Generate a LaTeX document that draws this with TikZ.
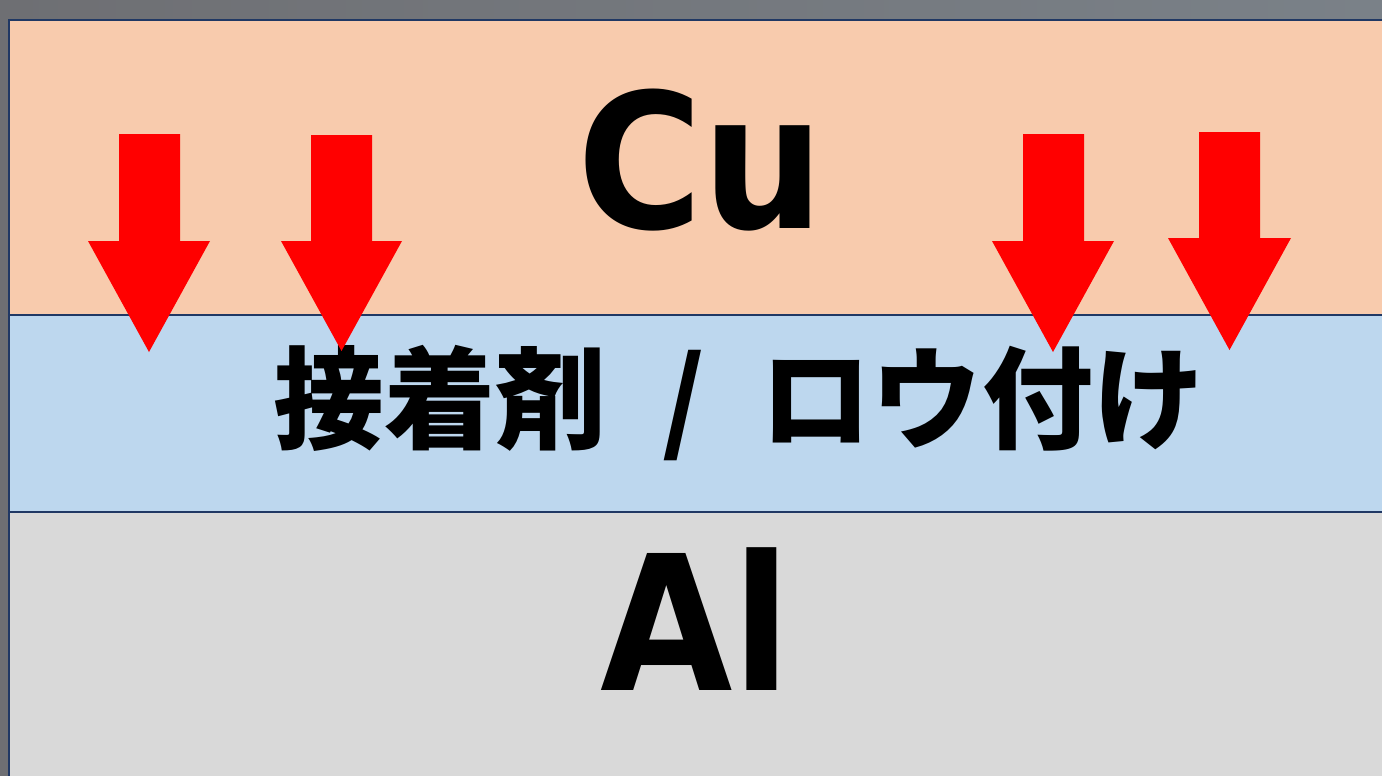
\documentclass[tikz,border=0pt]{standalone}
\usepackage{fontspec}
\newfontfamily\latinfont{DejaVu Sans}
\newfontfamily\jpfont{Noto Sans CJK JP}
\definecolor{bgleft}{RGB}{110,111,115}
\definecolor{bgright}{RGB}{122,129,136}
\definecolor{borderblue}{RGB}{32,56,100}
\definecolor{cufill}{RGB}{248,203,173}
\definecolor{bondfill}{RGB}{189,215,238}
\definecolor{alfill}{RGB}{217,217,217}
\definecolor{arrowred}{RGB}{255,0,0}
\begin{document}
\begin{tikzpicture}[x=0.5pt,y=-0.5pt,
  border/.style={draw=borderblue,line width=1.2pt},
  redarrow/.style={fill=arrowred},
  metal/.style={font=\latinfont\bfseries\fontsize{94}{94}\selectfont,inner sep=0pt,anchor=base,text=black},
  bondtext/.style={font=\jpfont\bfseries\fontsize{55.5}{55.5}\selectfont,inner sep=0pt,anchor=base,text=black}]
\useasboundingbox (0,0) rectangle (1382,776);
\shade[left color=bgleft,right color=bgright] (0,0) rectangle (1382,776);
\fill[cufill] (9,20) rectangle (1390,315);
\fill[bondfill] (9,315) rectangle (1390,512);
\fill[alfill] (9,512) rectangle (1390,790);
\draw[border] (1390,20) -- (9,20) -- (9,790);
\draw[border] (9,315) -- (1390,315);
\draw[border] (9,512) -- (1390,512);
\node[metal] (cu) at (701,228) {\scalebox{0.91}[1]{Cu}};
\node[metal] (al) at (696,690) {\scalebox{0.91}[1]{Al}};
\node[bondtext] (bond) at (739,440) {接着剤\hspace{0.5em}/\hspace{0.5em}ロウ付け};
\fill[redarrow] (119,134) -- (180,134) -- (180,241) -- (210,241) -- (149,352) -- (88,241) -- (119,241) -- cycle;
\fill[redarrow] (311,135) -- (372,135) -- (372,241) -- (402,241) -- (341.5,351) -- (281,241) -- (311,241) -- cycle;
\fill[redarrow] (1023,134) -- (1084,134) -- (1084,241) -- (1114,241) -- (1053,352) -- (992,241) -- (1023,241) -- cycle;
\fill[redarrow] (1199,132) -- (1260,132) -- (1260,238) -- (1291,238) -- (1229.5,350) -- (1168,238) -- (1199,238) -- cycle;
\end{tikzpicture}
\end{document}
